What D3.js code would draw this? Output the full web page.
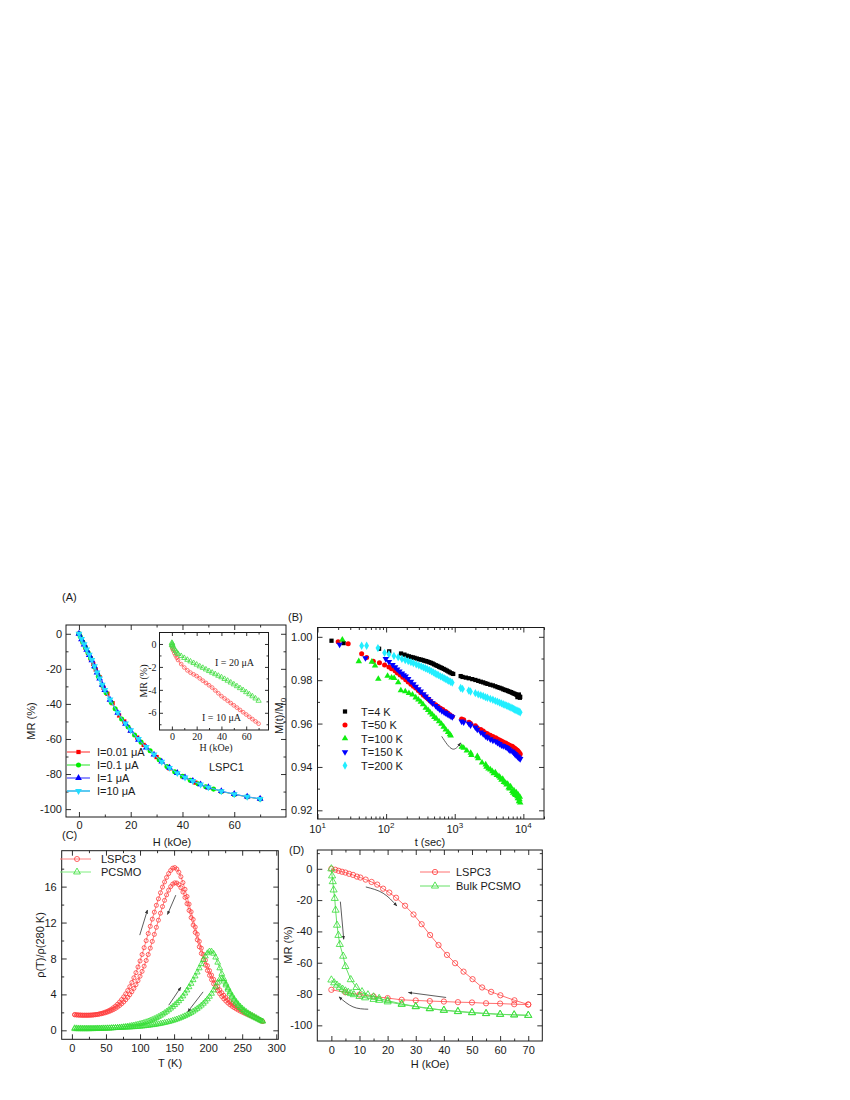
<!DOCTYPE html>
<html>
<head>
<meta charset="utf-8">
<script src="https://d3js.org/d3.v7.min.js"></script>
<style>
  body { margin: 0; background: #fff; }
  svg text { font-family: "Liberation Sans", Arial, sans-serif; font-size: 11px; fill: #1a1a1a; }
</style>
</head>
<body>
<svg id="chart" width="850" height="1100"></svg>
<script>
// ---------- (A) MR vs H for four currents ----------
var aRedH   = [0,1.5,2.5,3.5,4.5,5.5,6.5,8,9.5,11,13,15.5,17.5,20,22.5,25,30,35,40,45,50,55,60,65,70];
var aRedMR  = [0,-4.8,-7.9,-11,-14,-17.2,-20.5,-24.8,-30.8,-34.2,-39.6,-46.6,-50,-55.4,-59.2,-63.4,-70.3,-76.8,-81.3,-84.9,-87.7,-89.9,-91.6,-93.1,-94.2];
var aGrnH   = [0,0.5,1.5,2.5,3.5,4.5,6,7.5,9,10.5,12.5,14,16.5,19,21.5,24,27.5,31,34,37,40,43,46,49,52,55,60,65,70];
var aGrnMR  = [0,-1.6,-4.7,-7.7,-10.7,-13.8,-19,-24.3,-29.4,-33.6,-39.2,-42.8,-48.6,-53.2,-57.7,-61.8,-66.7,-71.8,-75.7,-78.7,-81.3,-83.6,-85.5,-87.2,-88.6,-89.9,-91.6,-93,-94.3];
var aH      = [0,1,2,3,4,5,6,7,8,9,10,12,15,18,20,23,26,29,32,35,38,41,44,47,50,55,60,65,70];
var aBluMR  = [0,-3.1,-6.1,-9.2,-12.1,-15.1,-18.6,-22.1,-25.6,-29.1,-32.1,-37.6,-45.1,-51.4,-55.4,-60.4,-64.9,-68.9,-72.9,-76.4,-79.4,-81.9,-83.9,-85.9,-87.5,-89.7,-91.4,-92.9,-94.1];
var aCyanMR = [0,-3,-6,-9,-12,-15,-18.5,-22,-25.5,-29,-32,-37.5,-45,-51.2,-55,-60,-64.5,-68.8,-73,-76.5,-79.5,-82,-84,-86,-87.6,-89.8,-91.5,-93,-94.2];
var aLegend = ["I=0.01 \u03bcA", "I=0.1 \u03bcA", "I=1 \u03bcA", "I=10 \u03bcA"];

// inset of (A)
var inH10  = [0,0.5,1,2,3,4,5,7.5,10,12.5,15,17.5,20,22.5,25,27.5,30,32.5,35,37.5,40,42.5,45,47.5,50,52.5,55,57.5,60,62.5,65,67.5,70];
var inMR10 = [-0.2,-0.4,-0.55,-0.8,-1,-1.2,-1.4,-1.75,-2.05,-2.3,-2.5,-2.65,-2.8,-3,-3.2,-3.4,-3.6,-3.8,-4.05,-4.3,-4.55,-4.75,-4.95,-5.15,-5.35,-5.55,-5.75,-5.95,-6.15,-6.35,-6.55,-6.75,-6.95];
var inH20  = [0,0,0.2,0.4,0.7,1,2,3,4,5,7.5,10,12.5,15,17.5,20,22.5,25,27.5,30,32.5,35,37.5,40,42.5,45,47.5,50,52.5,55,57.5,60,62.5,65,67.5,70];
var inMR20 = [0.1,-0.1,0.05,-0.05,-0.15,-0.3,-0.45,-0.6,-0.75,-0.87,-1.05,-1.22,-1.38,-1.52,-1.66,-1.8,-1.95,-2.08,-2.22,-2.36,-2.5,-2.63,-2.77,-2.9,-3.05,-3.2,-3.36,-3.52,-3.68,-3.85,-4.02,-4.2,-4.38,-4.56,-4.75,-4.95];

// ---------- (B) relaxation M(t)/M0, [t (s), M/M0] ----------
var b4K = [[16,0.9982],[24,0.9971],[79,0.9945],[111,0.9933],[165,0.9923],[185,0.9918],[200,0.9913],[215,0.991],[230,0.9907],[245,0.9905],[260,0.9903],[280,0.99],[300,0.9897],[320,0.9895],[340,0.9893],[360,0.989],[380,0.9888],[400,0.9886],[425,0.9883],[450,0.988],[475,0.9877],[500,0.9873],[530,0.9869],[560,0.9866],[590,0.9862],[620,0.9859],[650,0.9856],[690,0.9852],[730,0.9848],[770,0.9844],[810,0.984],[850,0.9836],[900,0.9832],[950,0.9829],[1220,0.9819],[1300,0.9815],[1450,0.9812],[1600,0.9809],[1800,0.9805],[2000,0.9801],[2200,0.9797],[2400,0.9793],[2600,0.979],[2800,0.9786],[3000,0.9783],[3300,0.9779],[3600,0.9776],[3900,0.9772],[4200,0.9768],[4500,0.9765],[4800,0.9762],[5100,0.9758],[5400,0.9755],[5700,0.9753],[6000,0.975],[6300,0.9747],[6600,0.9745],[6900,0.9742],[7200,0.9739],[7500,0.9737],[7800,0.9734],[8100,0.9731],[8400,0.9729],[8700,0.9726],[9000,0.9723],[8200,0.9722],[8600,0.9734],[8900,0.9719]];
var b50K = [[20,0.9977],[28,0.9968],[44,0.9922],[52,0.9905],[65,0.9887],[80,0.988],[95,0.987],[110,0.9861],[120,0.9853],[135,0.9843],[146,0.9833],[160,0.9824],[175,0.9814],[193,0.9802],[210,0.9792],[230,0.9781],[250,0.9772],[270,0.9764],[295,0.9752],[320,0.9742],[350,0.9731],[377,0.9723],[410,0.9713],[440,0.9704],[480,0.9694],[527,0.9687],[570,0.9679],[620,0.9671],[670,0.9665],[737,0.9656],[790,0.9649],[850,0.9641],[922,0.9633],[1260,0.9621],[1350,0.9618],[1613,0.9606],[1700,0.96],[2000,0.959],[2133,0.958],[2400,0.9572],[2600,0.9566],[2820,0.9557],[3000,0.9553],[3300,0.9546],[3600,0.954],[3950,0.9534],[4200,0.9529],[4500,0.9524],[4800,0.9519],[5100,0.9515],[5517,0.951],[5800,0.9506],[6100,0.9502],[6400,0.9499],[6900,0.9495],[7200,0.949],[7500,0.9486],[7800,0.9482],[8170,0.9477],[8400,0.9472],[8700,0.9466],[9000,0.946],[8800,0.9455]];
var b100K = [[23,0.9987],[40,0.9887],[62,0.9885],[69,0.9867],[77,0.9806],[105,0.982],[120,0.9812],[131,0.981],[150,0.979],[164,0.9753],[190,0.9748],[215,0.974],[242,0.9733],[270,0.972],[295,0.971],[320,0.97],[345,0.9688],[378,0.9672],[410,0.9662],[440,0.965],[472,0.9641],[505,0.963],[540,0.9622],[591,0.961],[640,0.9598],[690,0.9585],[740,0.9572],[800,0.956],[850,0.955],[875,0.9544],[1265,0.9492],[1350,0.9488],[1500,0.9475],[1710,0.9465],[1750,0.9455],[2134,0.9449],[2200,0.944],[2500,0.942],[2825,0.9411],[2900,0.94],[3100,0.9392],[3300,0.9388],[3525,0.938],[3700,0.937],[3900,0.9375],[4100,0.9362],[4416,0.9357],[4600,0.935],[4800,0.934],[5000,0.9345],[5200,0.933],[5521,0.9326],[5700,0.9318],[5900,0.9322],[6100,0.9305],[6300,0.93],[6500,0.931],[6890,0.9288],[7100,0.928],[7300,0.9292],[7500,0.9275],[7700,0.927],[7900,0.9282],[8150,0.9264],[8300,0.9255],[8400,0.9272],[8630,0.9241],[8800,0.925],[8900,0.9262],[9000,0.9235]];
var b150K = [[21,0.9964],[50,0.9902],[99,0.9898],[110,0.9885],[124,0.9871],[135,0.986],[145,0.985],[156,0.9841],[170,0.9831],[180,0.9824],[193,0.9818],[210,0.9806],[230,0.9794],[250,0.9782],[270,0.9771],[295,0.9759],[320,0.9748],[350,0.9736],[377,0.9725],[410,0.9714],[440,0.9704],[475,0.9694],[527,0.9682],[560,0.9674],[600,0.9666],[650,0.9658],[700,0.9652],[737,0.9649],[780,0.9643],[830,0.9638],[880,0.9634],[922,0.963],[1260,0.961],[1350,0.9606],[1613,0.96],[1700,0.9592],[2000,0.9583],[2133,0.9572],[2400,0.956],[2600,0.9552],[2820,0.9541],[3000,0.9536],[3300,0.9528],[3600,0.9522],[3950,0.9518],[4200,0.9512],[4500,0.9506],[4800,0.95],[5100,0.9497],[5500,0.9493],[5800,0.9488],[6100,0.9482],[6400,0.9476],[6900,0.9472],[7200,0.9466],[7500,0.946],[7800,0.9455],[8150,0.9449],[8400,0.9445],[8700,0.944],[9000,0.9437]];
var b200K = [[44,0.9959],[52,0.9959],[76,0.9948],[95,0.9926],[110,0.992],[130,0.9912],[150,0.9906],[170,0.9898],[190,0.9893],[210,0.9888],[230,0.9883],[250,0.9879],[275,0.9873],[300,0.9868],[325,0.9864],[350,0.9859],[375,0.9855],[400,0.9851],[430,0.9846],[460,0.9841],[490,0.9836],[520,0.9831],[550,0.9827],[580,0.9823],[620,0.9818],[660,0.9814],[700,0.9809],[740,0.9805],[780,0.9801],[820,0.9797],[870,0.9793],[920,0.9789],[1220,0.9764],[1300,0.976],[1600,0.9752],[1700,0.9748],[2000,0.974],[2200,0.9735],[2400,0.9731],[2600,0.9727],[2800,0.9722],[3000,0.9719],[3300,0.9714],[3600,0.971],[3900,0.9705],[4200,0.9701],[4500,0.9697],[4800,0.9693],[5100,0.9689],[5400,0.9686],[5700,0.9683],[6000,0.968],[6300,0.9677],[6600,0.9674],[6900,0.9671],[7200,0.9668],[7500,0.9665],[7800,0.9662],[8100,0.966],[8400,0.9657],[8700,0.9655],[9000,0.9652]];
var bLegend = ["T=4 K", "T=50 K", "T=100 K", "T=150 K", "T=200 K"];

// ---------- (C) rho(T)/rho(280 K) ----------
var cT = [4,7,10,13,16,19,22,25,28,31,34,37,40,43,46,49,52,55,58,61,64,67,70,73,76,79,82,85,88,91,94,97,100,103,106,109,112,115,118,121,124,127,130,133,136,139,142,145,148,151,154,157,160,163,166,169,172,175,178,181,184,187,190,193,196,199,202,205,208,211,214,217,220,223,226,229,232,235,238,241,244,247,250,253,256,259,262,265,268,271,274,277,280];
var cRed1 = [1.72,1.7,1.68,1.67,1.66,1.66,1.66,1.67,1.68,1.7,1.73,1.77,1.82,1.88,1.95,2.03,2.12,2.23,2.36,2.52,2.7,2.91,3.15,3.42,3.72,4.06,4.44,4.86,5.33,5.85,6.42,7.05,7.72,8.44,9.2,9.98,10.78,11.58,12.38,13.16,13.92,14.64,15.32,15.95,16.52,17.02,17.45,17.8,18.05,18.12,17.95,17.6,17.1,16.45,15.7,14.9,14.05,13.2,12.35,11.5,10.7,9.9,9.15,8.45,7.8,7.2,6.65,6.15,5.68,5.25,4.86,4.5,4.18,3.9,3.64,3.4,3.19,3,2.82,2.66,2.51,2.37,2.24,2.11,1.99,1.87,1.74,1.62,1.49,1.36,1.24,1.12,1];
var cRed2 = [1.76,1.74,1.72,1.71,1.7,1.7,1.7,1.7,1.71,1.72,1.74,1.77,1.8,1.84,1.89,1.95,2.02,2.1,2.2,2.31,2.44,2.59,2.76,2.95,3.16,3.4,3.67,3.97,4.3,4.67,5.08,5.53,6.02,6.56,7.14,7.77,8.44,9.15,9.9,10.68,11.47,12.26,13.04,13.78,14.47,15.08,15.6,16,16.28,16.42,16.4,16.22,15.88,15.4,14.8,14.1,13.35,12.55,11.72,10.9,10.08,9.3,8.56,7.88,7.25,6.66,6.12,5.63,5.18,4.77,4.4,4.07,3.77,3.5,3.26,3.04,2.85,2.68,2.53,2.39,2.26,2.14,2.03,1.92,1.82,1.72,1.63,1.53,1.43,1.32,1.21,1.1,1];
var cGrn1 = [0.15,0.15,0.14,0.14,0.14,0.14,0.14,0.14,0.15,0.15,0.16,0.16,0.17,0.18,0.19,0.2,0.21,0.22,0.24,0.26,0.28,0.3,0.32,0.35,0.38,0.41,0.44,0.48,0.52,0.56,0.61,0.66,0.72,0.78,0.85,0.92,1,1.09,1.18,1.28,1.39,1.51,1.64,1.78,1.93,2.09,2.26,2.44,2.63,2.83,3.04,3.26,3.5,3.8,4.12,4.46,4.82,5.2,5.6,6.02,6.46,6.92,7.38,7.84,8.25,8.6,8.8,8.78,8.55,8.12,7.55,6.92,6.3,5.72,5.2,4.72,4.28,3.88,3.52,3.2,2.92,2.67,2.45,2.25,2.07,1.91,1.77,1.64,1.51,1.38,1.25,1.12,1];
var cGrn2 = [0.25,0.24,0.23,0.23,0.22,0.22,0.22,0.22,0.22,0.22,0.22,0.23,0.23,0.23,0.24,0.24,0.25,0.25,0.26,0.26,0.27,0.28,0.29,0.3,0.31,0.32,0.33,0.34,0.36,0.37,0.39,0.41,0.43,0.45,0.47,0.5,0.53,0.56,0.59,0.62,0.66,0.7,0.74,0.79,0.84,0.89,0.95,1.01,1.08,1.15,1.23,1.31,1.4,1.5,1.6,1.71,1.83,1.96,2.1,2.25,2.41,2.58,2.77,2.98,3.21,3.47,3.76,4.09,4.46,4.88,5.32,5.68,5.72,5.45,5.02,4.55,4.1,3.7,3.34,3.02,2.74,2.5,2.29,2.1,1.94,1.8,1.67,1.55,1.43,1.32,1.21,1.1,1];

// ---------- (D) MR loops ----------
var dRedUpH   = [0,1.4,2.6,3.8,5,6.3,7.7,9.1,10.3,12.2,14.3,16.3,18.4,20.6,23,26.2,29.2,32.1,35.1,38.1,41.1,44,47,50.2,53.6,56.8,60.1,65.1,70];
var dRedUpMR  = [0,-0.6,-1.3,-1.9,-2.4,-3.2,-3.9,-5,-5.6,-6.9,-8.4,-10.1,-12.7,-15.2,-18.5,-23.6,-29.2,-35.4,-42.3,-48.7,-55,-60.3,-65.7,-70.5,-75.8,-78.6,-80.8,-84,-86.7];
var dRedDnH   = [70,65,60,55,50,45,40,35,30,25,20,15,10,5,0];
var dRedDnMR  = [-86.7,-86.5,-86.1,-85.9,-85.4,-85.2,-84.8,-84.5,-84.1,-83.7,-82.6,-81.5,-80.4,-78.9,-77.3];
var dGrnUpH   = [0,0.25,0.5,0.8,1.2,1.5,2,2.5,3,4.2,5,6.9,8.9,10.9,13,15,17,20,25,30,35,40,45,50,55,60,65,70];
var dGrnUpMR  = [0,-4.5,-8.2,-13.5,-18.9,-26.4,-36,-42.5,-48.3,-55.8,-62.4,-70.8,-75.8,-78.5,-80.5,-81.8,-82.8,-84.2,-86.3,-87.9,-89.2,-90.3,-91.1,-91.8,-92.4,-92.9,-93.3,-93.6];
var dGrnDnH   = [70,65,60,55,50,45,40,35,30,25,20,17,15,12,10,8,7,6,5,4,3,2,1,0];
var dGrnDnMR  = [-93.6,-93.3,-93,-92.5,-91.9,-91.2,-90.4,-89.4,-88.1,-86.6,-85,-84,-83.4,-82.4,-81.5,-80.4,-79.7,-78.9,-78,-76.9,-75.7,-74.3,-72.8,-71];

// arrows drawn on the plots, in data units
var bArrow  = [[646,0.9541],[922,0.9483],[1222,0.9511]];
var cArrows = [[[99.6,10.6],[110.9,13.4]], [[152.5,15.05],[140.3,12.9]], [[142.2,2.8],[159.9,4.8]], [[192.6,4.28],[170.1,2.07]]];
var dArrows = [[[12.25,-11.6],[18.4,-15.6],[23.3,-23.8]], [[3.2,-21],[4.4,-45]], [[40.8,-82.2],[27.4,-79]], [[13.1,-89.7],[7.7,-88.2],[2.7,-81.8]]];

// ---------------------------------------------------
var ink = '#1a1a1a';
var sans = '"Liberation Sans", Arial, sans-serif';
var serif = '"Liberation Serif", "Times New Roman", serif';
var svg = d3.select('#chart');
svg.append('rect').attr('width', 850).attr('height', 1100).attr('fill', '#fff');
svg.append('defs').append('marker')
    .attr('id', 'ah').attr('viewBox', '0 0 10 10').attr('refX', 9).attr('refY', 5)
    .attr('markerWidth', 5).attr('markerHeight', 5).attr('orient', 'auto')
  .append('path').attr('d', 'M0,1L10,5L0,9Z').attr('fill', '#333');

function plain(d) { return String(d); }

// box with inward ticks on all four sides
function frame(g, x, y, o) {
    var l = x.range()[0], r = x.range()[1], b = y.range()[0], t = y.range()[1];
    var big = o.big || 5, small = o.small || 2.5;
    function add(axis, tx, ty, vals, len, fmt) {
        var a = axis.tickValues(vals).tickSizeInner(-len).tickSizeOuter(0)
            .tickPadding(o.pad || 4).tickFormat(fmt ? fmt : function () { return ''; });
        var s = g.append('g').attr('transform', 'translate(' + tx + ',' + ty + ')').call(a);
        s.select('.domain').remove();
        s.attr('font-family', o.font || sans).attr('font-size', o.fs || 11).attr('color', ink);
        s.selectAll('line').attr('stroke-width', 0.9);
        s.selectAll('text').style('font-family', o.font || sans).style('font-size', (o.fs || 11) + 'px');
        return s;
    }
    add(d3.axisBottom(x), 0, b, o.xMinor, small);
    add(d3.axisBottom(x), 0, b, o.xMajor, big, o.xFmt === false ? null : (o.xFmt || plain));
    add(d3.axisTop(x), 0, t, o.xMinor, small);
    add(d3.axisTop(x), 0, t, o.xMajor, big);
    add(d3.axisLeft(y), l, 0, o.yMinor, small);
    add(d3.axisLeft(y), l, 0, o.yMajor, big, o.yFmt || plain);
    add(d3.axisRight(y), r, 0, o.yMinor, small);
    add(d3.axisRight(y), r, 0, o.yMajor, big);
    g.append('rect').attr('x', l).attr('y', t).attr('width', r - l).attr('height', b - t)
        .attr('fill', 'none').attr('stroke', ink).attr('stroke-width', 1);
}

function series(g, x, y, xs, ys, o) {
    var pts = xs.map(function (v, i) { return [v, ys[i]]; });
    if (o.line) {
        g.append('path').datum(pts)
            .attr('d', d3.line().x(function (d) { return x(d[0]); }).y(function (d) { return y(d[1]); }))
            .attr('fill', 'none').attr('stroke', o.line).attr('stroke-width', o.lw || 1);
    }
    g.append('g').selectAll('path').data(pts).join('path')
        .attr('transform', function (d) { return 'translate(' + x(d[0]) + ',' + y(d[1]) + ')' + (o.rot ? ' rotate(' + o.rot + ')' : ''); })
        .attr('d', d3.symbol().type(o.type).size(o.size))
        .attr('fill', o.fill || 'none').attr('stroke', o.stroke || 'none').attr('stroke-width', o.sw || 1);
}

function pairs(g, x, y, data, o) {
    series(g, x, y, data.map(function (d) { return d[0]; }), data.map(function (d) { return d[1]; }), o);
}

function legendRow(g, lx, y, o, label, textX) {
    if (o.line) g.append('line').attr('x1', lx[0]).attr('x2', lx[2]).attr('y1', y).attr('y2', y)
        .attr('stroke', o.line).attr('stroke-width', o.lw || 1);
    g.append('path').attr('transform', 'translate(' + lx[1] + ',' + y + ')' + (o.rot ? ' rotate(' + o.rot + ')' : ''))
        .attr('d', d3.symbol().type(o.type).size(o.size))
        .attr('fill', o.fill || 'none').attr('stroke', o.stroke || 'none').attr('stroke-width', o.sw || 1);
    g.append('text').attr('x', textX).attr('y', y + 4).text(label);
}

function arrow(g, x, y, pts) {
    var line = d3.line().x(function (d) { return x(d[0]); }).y(function (d) { return y(d[1]); });
    if (pts.length > 2) line.curve(d3.curveNatural);
    g.append('path').attr('d', line(pts)).attr('fill', 'none').attr('stroke', '#333')
        .attr('stroke-width', 0.8).attr('marker-end', 'url(#ah)');
}

function yTitle(x, y, txt) {
    return svg.append('text').attr('transform', 'translate(' + x + ',' + y + ') rotate(-90)')
        .attr('text-anchor', 'middle').text(txt);
}
function xTitle(x, y, txt) {
    return svg.append('text').attr('x', x).attr('y', y).attr('text-anchor', 'middle').text(txt);
}

// ============ (A) ============
var xA = d3.scaleLinear().domain([-5, 80]).range([66, 286]);
var yA = d3.scaleLinear().domain([-104.5, 5]).range([817, 625]);
var gA = svg.append('g');
frame(gA, xA, yA, { xMajor: [0, 20, 40, 60], xMinor: [10, 30, 50, 70],
    yMajor: [0, -20, -40, -60, -80, -100], yMinor: [-10, -30, -50, -70, -90], pad: 4 });

var styA = [
    { line: '#ff7777', type: d3.symbolSquare, size: 18, fill: '#ff0000' },
    { line: '#77ee77', type: d3.symbolCircle, size: 20, fill: '#00ee00' },
    { line: '#7777ff', type: d3.symbolTriangle, size: 20, fill: '#0000ff' },
    { line: '#33bbee', type: d3.symbolTriangle, size: 20, fill: '#22ddff', rot: 180 }
];
series(gA, xA, yA, aRedH, aRedMR, styA[0]);
series(gA, xA, yA, aGrnH, aGrnMR, styA[1]);
series(gA, xA, yA, aH, aBluMR, styA[2]);
series(gA, xA, yA, aH, aCyanMR, styA[3]);
[752, 765, 778, 791].forEach(function (ry, i) {
    legendRow(gA, [67, 78.5, 90], ry, Object.assign({}, styA[i], { lw: 1.6 }), aLegend[i], 97);
});
gA.append('text').attr('x', 209).attr('y', 771).text('LSPC1');

// inset
var xI = d3.scaleLinear().domain([-10, 78]).range([159.5, 268.5]);
var yI = d3.scaleLinear().domain([-7.5, 1]).range([730, 632.5]);
var gI = svg.append('g');
gI.append('rect').attr('x', 159.5).attr('y', 632.5).attr('width', 109).attr('height', 97.5).attr('fill', '#fff');
frame(gI, xI, yI, { xMajor: [0, 20, 40, 60], xMinor: [10, 30, 50, 70],
    yMajor: [0, -2, -4, -6], yMinor: [-1, -3, -5, -7], pad: 3, big: 3.5, small: 2, font: serif, fs: 10 });
series(gI, xI, yI, inH10, inMR10, { line: '#ff8888', type: d3.symbolCircle, size: 11, stroke: '#ff5555', sw: 0.8 });
series(gI, xI, yI, inH20, inMR20, { line: '#88ee88', type: d3.symbolTriangle, size: 12, stroke: '#44dd44', sw: 0.8 });
gI.selectAll('.lbl').data([['I = 20 \u03bcA', 215, 666], ['I = 10 \u03bcA', 202, 721]]).join('text')
    .attr('x', function (d) { return d[1]; }).attr('y', function (d) { return d[2]; })
    .style('font-family', serif).style('font-size', '10px').text(function (d) { return d[0]; });
yTitle(147, 681, 'MR (%)').style('font-family', serif).style('font-size', '10px');
xTitle(216, 751, 'H (kOe)').style('font-family', serif).style('font-size', '10px');

yTitle(35, 721, 'MR (%)');
xTitle(172, 846, 'H (kOe)');
svg.append('text').attr('x', 62).attr('y', 601).text('(A)');

// ============ (B) ============
var xB = d3.scaleLog().domain([10, 20000]).range([317.5, 544]);
var yB = d3.scaleLinear().domain([0.916, 1.0043]).range([819, 627.5]);
var gB = svg.append('g');
var bMinor = [];
[10, 100, 1000, 10000].forEach(function (dec) {
    [2, 3, 4, 5, 6, 7, 8, 9].forEach(function (m) { if (dec * m <= 20000) bMinor.push(dec * m); });
});
frame(gB, xB, yB, { xMajor: [10, 100, 1000, 10000], xMinor: bMinor, xFmt: false,
    yMajor: [0.92, 0.94, 0.96, 0.98, 1.00], yMinor: [0.93, 0.95, 0.97, 0.99], yFmt: d3.format('.2f'), pad: 5 });
[10, 100, 1000, 10000].forEach(function (v, i) {
    var t = gB.append('text').attr('x', xB(v)).attr('y', 833).attr('text-anchor', 'middle');
    t.append('tspan').text('10');
    t.append('tspan').attr('dy', -5).style('font-size', '8px').text(String(i + 1));
});
var styB = [
    { type: d3.symbolSquare, size: 18, fill: '#000000' },
    { type: d3.symbolCircle, size: 20, fill: '#ff0000' },
    { type: d3.symbolTriangle, size: 18, fill: '#11ee11' },
    { type: d3.symbolTriangle, size: 18, fill: '#0000ff', rot: 180 },
    { type: d3.symbolDiamond, size: 20, fill: '#22eeff' }
];
[b4K, b200K, b50K, b150K, b100K].forEach(function (data, k) {
    pairs(gB, xB, yB, data, styB[[0, 4, 1, 3, 2][k]]);
});
[711.5, 725, 738.5, 752, 765.5].forEach(function (ry, i) {
    legendRow(gB, [345, 345, 345], ry, styB[i], bLegend[i], 361);
});
arrow(gB, xB, yB, bArrow);
var bt = yTitle(283, 716, '');
bt.append('tspan').text('M(t)/M');
bt.append('tspan').attr('dy', 3).style('font-size', '8px').text('0');
xTitle(430, 846, 't (sec)');
svg.append('text').attr('x', 288).attr('y', 621).text('(B)');

// ============ (C) ============
var xC = d3.scaleLinear().domain([-15, 303]).range([61.7, 278.3]);
var yC = d3.scaleLinear().domain([-1, 20]).range([1039.3, 850.7]);
var gC = svg.append('g');
frame(gC, xC, yC, { xMajor: [0, 50, 100, 150, 200, 250, 300], xMinor: [25, 75, 125, 175, 225, 275],
    yMajor: [0, 4, 8, 12, 16], yMinor: [2, 6, 10, 14, 18], pad: 5 });
var redC = { line: '#ff8080', type: d3.symbolCircle, size: 13, stroke: '#ff3b3b', sw: 0.8 };
var grnC = { line: '#80ee80', type: d3.symbolTriangle, size: 14, stroke: '#33dd33', sw: 0.8 };
series(gC, xC, yC, cT, cRed1, redC);
series(gC, xC, yC, cT, cRed2, redC);
series(gC, xC, yC, cT, cGrn1, grnC);
series(gC, xC, yC, cT, cGrn2, grnC);
cArrows.forEach(function (a) { arrow(gC, xC, yC, a); });
legendRow(gC, [60, 77, 91], 859, Object.assign({}, redC, { size: 20 }), 'LSPC3', 101);
legendRow(gC, [60, 77, 91], 872, Object.assign({}, grnC, { size: 20 }), 'PCSMO', 101);
yTitle(44, 945, '\u03c1(T)/\u03c1(280 K)');
xTitle(170, 1067, 'T (K)');
svg.append('text').attr('x', 62).attr('y', 839).text('(C)');

// ============ (D) ============
var xD = d3.scaleLinear().domain([-5, 75]).range([317.3, 542.3]);
var yD = d3.scaleLinear().domain([-110, 12]).range([1041, 850]);
var gD = svg.append('g');
frame(gD, xD, yD, { xMajor: [0, 10, 20, 30, 40, 50, 60, 70], xMinor: [5, 15, 25, 35, 45, 55, 65],
    yMajor: [0, -20, -40, -60, -80, -100], yMinor: [10, -10, -30, -50, -70, -90], pad: 5 });
var redD = { line: '#ff7070', type: d3.symbolCircle, size: 22, stroke: '#ff3b3b', sw: 0.8 };
var grnD = { line: '#66e066', type: d3.symbolTriangle, size: 22, stroke: '#33dd33', sw: 0.8 };
series(gD, xD, yD, dRedUpH, dRedUpMR, redD);
series(gD, xD, yD, dRedDnH, dRedDnMR, redD);
series(gD, xD, yD, dGrnUpH, dGrnUpMR, grnD);
series(gD, xD, yD, dGrnDnH, dGrnDnMR, grnD);
dArrows.forEach(function (a) { arrow(gD, xD, yD, a); });
legendRow(gD, [420, 435, 450], 872, redD, 'LSPC3', 456);
legendRow(gD, [420, 435, 450], 886, grnD, 'Bulk PCSMO', 456);
yTitle(292, 945, 'MR (%)');
xTitle(430, 1068, 'H (kOe)');
svg.append('text').attr('x', 289).attr('y', 854).text('(D)');
</script>
</body>
</html>
